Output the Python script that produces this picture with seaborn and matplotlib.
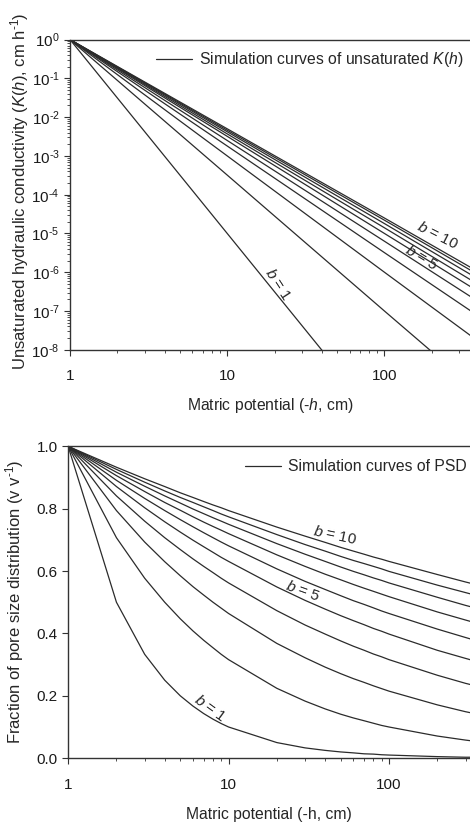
import matplotlib
matplotlib.use("Agg")
from matplotlib import pyplot as plt
from matplotlib.lines import Line2D
from matplotlib.ticker import LogLocator, NullFormatter, FixedLocator
import seaborn as sns

# b parameters of the simulated curves
b_values = [1, 2, 3, 4, 5, 6, 7, 8, 9, 10]

# top panel: unsaturated K(h), read at a few matric potentials (straight lines on log-log)
k_h = [1, 10, 100, 400]
k_b1 = [1.0, 1.0e-5, 1.0e-10, 1.0e-13]
k_b2 = [1.0, 3.2e-4, 1.0e-7, 8.0e-10]
k_b3 = [1.0, 1.0e-3, 1.0e-6, 1.6e-8]
k_b4 = [1.0, 1.8e-3, 3.2e-6, 7.2e-8]
k_b5 = [1.0, 2.5e-3, 6.3e-6, 1.7e-7]
k_b6 = [1.0, 3.2e-3, 1.0e-5, 3.1e-7]
k_b7 = [1.0, 3.7e-3, 1.4e-5, 4.7e-7]
k_b8 = [1.0, 4.2e-3, 1.8e-5, 6.5e-7]
k_b9 = [1.0, 4.6e-3, 2.2e-5, 8.4e-7]
k_b10 = [1.0, 5.0e-3, 2.5e-5, 1.0e-6]
k_curves = [k_b1, k_b2, k_b3, k_b4, k_b5, k_b6, k_b7, k_b8, k_b9, k_b10]
k_ticks = [1e-8, 1e-7, 1e-6, 1e-5, 1e-4, 1e-3, 1e-2, 1e-1, 1]
k_tick_exp = ['-8', '-7', '-6', '-5', '-4', '-3', '-2', '-1', '0']

# bottom panel: pore size distribution fraction
psd_h = [1, 2, 3, 4, 5, 6, 7, 8, 9, 10, 20, 30, 40, 50, 60, 70, 80, 90, 100, 200, 300, 400]
psd_b1 = [1.0, .500, .333, .250, .200, .167, .143, .125, .111, .100, .050, .033, .025, .020, .017, .014, .013, .011, .010, .005, .003, .003]
psd_b2 = [1.0, .707, .577, .500, .447, .408, .378, .354, .333, .316, .224, .183, .158, .141, .129, .120, .112, .105, .100, .071, .058, .050]
psd_b3 = [1.0, .794, .693, .630, .585, .550, .523, .500, .481, .464, .368, .322, .292, .271, .255, .243, .232, .223, .215, .171, .149, .136]
psd_b4 = [1.0, .841, .760, .707, .669, .639, .615, .595, .577, .562, .473, .427, .398, .376, .359, .346, .334, .325, .316, .266, .240, .224]
psd_b5 = [1.0, .871, .803, .758, .725, .699, .678, .660, .644, .631, .549, .506, .478, .457, .441, .428, .416, .407, .398, .346, .320, .302]
psd_b6 = [1.0, .891, .833, .794, .765, .742, .723, .707, .693, .681, .607, .567, .541, .521, .505, .493, .482, .472, .464, .414, .387, .368]
psd_b7 = [1.0, .906, .855, .820, .795, .774, .757, .743, .731, .720, .652, .615, .590, .572, .557, .545, .535, .526, .518, .469, .443, .425]
psd_b8 = [1.0, .917, .872, .841, .818, .799, .784, .771, .760, .750, .688, .654, .631, .613, .599, .588, .578, .570, .562, .516, .490, .473]
psd_b9 = [1.0, .926, .885, .857, .836, .820, .806, .794, .783, .774, .717, .685, .664, .647, .634, .624, .615, .607, .599, .555, .531, .514]
psd_b10 = [1.0, .933, .896, .871, .851, .836, .823, .812, .803, .794, .741, .712, .692, .676, .664, .654, .645, .638, .631, .589, .565, .549]
psd_curves = [psd_b1, psd_b2, psd_b3, psd_b4, psd_b5, psd_b6, psd_b7, psd_b8, psd_b9, psd_b10]

sns.set_style("ticks")
plt.rcParams['font.family'] = ['Liberation Sans', 'DejaVu Sans']
plt.rcParams['mathtext.fontset'] = 'custom'
plt.rcParams['mathtext.rm'] = 'Liberation Sans'
plt.rcParams['mathtext.it'] = 'Liberation Sans:italic'
plt.rcParams['mathtext.default'] = 'regular'

line_col = '#2b2b2b'
tick_fs = 11
label_fs = 11.3
note_fs = 11

fig = plt.figure(figsize=(4.7, 8.25), dpi=100)
ax1 = fig.add_axes([0.149, 0.576, 0.851, 0.376])
ax2 = fig.add_axes([0.145, 0.081, 0.855, 0.378])


def style_axis(ax):
    for s in ['top', 'left', 'bottom']:
        ax.spines[s].set_visible(True)
        ax.spines[s].set_color('#333333')
        ax.spines[s].set_linewidth(1.0)
    ax.spines['right'].set_visible(False)
    ax.tick_params(which='major', direction='out', length=4, width=0.8, colors='#333333',
                   labelsize=tick_fs, labelcolor='#1a1a1a', top=False, right=False)
    ax.tick_params(which='minor', direction='out', length=2.5, width=0.6, colors='#333333',
                   top=False, right=False)
    ax.tick_params(axis='x', which='major', pad=10)


# top panel
for b, ks in zip(b_values, k_curves):
    sns.lineplot(x=k_h, y=ks, color=line_col, linewidth=0.9, ax=ax1)
ax1.set_xscale('log')
ax1.set_yscale('log')
ax1.set_xlim(1, 350)
ax1.set_ylim(1e-8, 1)
ax1.set_yticks(k_ticks)
ax1.set_yticklabels(['10$^{\\text{%s}}$' % e for e in k_tick_exp])
ax1.yaxis.set_minor_locator(LogLocator(base=10, subs=[2, 3, 4, 5, 6, 7, 8, 9], numticks=12))
ax1.yaxis.set_minor_formatter(NullFormatter())
ax1.xaxis.set_major_locator(FixedLocator([1, 10, 100]))
ax1.set_xticklabels(['1', '10', '100'])
style_axis(ax1)
ax1.set_xlabel('Matric potential (-$\\mathit{h}$, cm)', fontsize=label_fs, labelpad=9)
ax1.set_ylabel('Unsaturated hydraulic conductivity ($\\mathit{K}$($\\mathit{h}$), cm h$^{\\text{-1}}$)',
               fontsize=12)
ax1.yaxis.set_label_coords(-0.097, 0.51)
h1 = Line2D([], [], color=line_col, linewidth=0.9)
ax1.legend([h1], ['Simulation curves of unsaturated $\\mathit{K(h)}$'], loc='center right',
           bbox_to_anchor=(0.985, 0.935), frameon=False, fontsize=label_fs,
           handlelength=2.3, handletextpad=0.45, borderpad=0, borderaxespad=0)

ax1.text(21, 5.0e-7, '$\\mathit{b}$ = 1', rotation=-57, fontsize=note_fs, ha='center', va='center')
ax1.text(172, 2.4e-6, '$\\mathit{b}$ = 5', rotation=-31, fontsize=note_fs, ha='center', va='center')
ax1.text(217, 9.0e-6, '$\\mathit{b}$ = 10', rotation=-27, fontsize=note_fs, ha='center', va='center')

# bottom panel
for b, ps in zip(b_values, psd_curves):
    sns.lineplot(x=psd_h, y=ps, color=line_col, linewidth=0.9, ax=ax2)
ax2.set_xscale('log')
ax2.set_xlim(1, 320)
ax2.set_ylim(0, 1.0)
ax2.set_yticks([0.0, 0.2, 0.4, 0.6, 0.8, 1.0])
ax2.set_yticklabels(['0.0', '0.2', '0.4', '0.6', '0.8', '1.0'])
ax2.xaxis.set_major_locator(FixedLocator([1, 10, 100]))
ax2.set_xticklabels(['1', '10', '100'])
style_axis(ax2)
ax2.set_xlabel('Matric potential (-h, cm)', fontsize=label_fs, labelpad=11)
ax2.set_ylabel('Fraction of pore size distribution (v v$^{\\text{-1}}$)', fontsize=12)
ax2.yaxis.set_label_coords(-0.104, 0.503)
h2 = Line2D([], [], color=line_col, linewidth=0.9)
ax2.legend([h2], ['Simulation curves of PSD'], loc='center right',
           bbox_to_anchor=(0.993, 0.935), frameon=False, fontsize=label_fs,
           handlelength=2.3, handletextpad=0.45, borderpad=0, borderaxespad=0)

ax2.text(7.7, 0.16, '$\\mathit{b}$ = 1', rotation=-36, fontsize=note_fs, ha='center', va='center')
ax2.text(29, 0.535, '$\\mathit{b}$ = 5', rotation=-20, fontsize=note_fs, ha='center', va='center')
ax2.text(46, 0.715, '$\\mathit{b}$ = 10', rotation=-12, fontsize=note_fs, ha='center', va='center')

fig.savefig('out.png', dpi=100)
